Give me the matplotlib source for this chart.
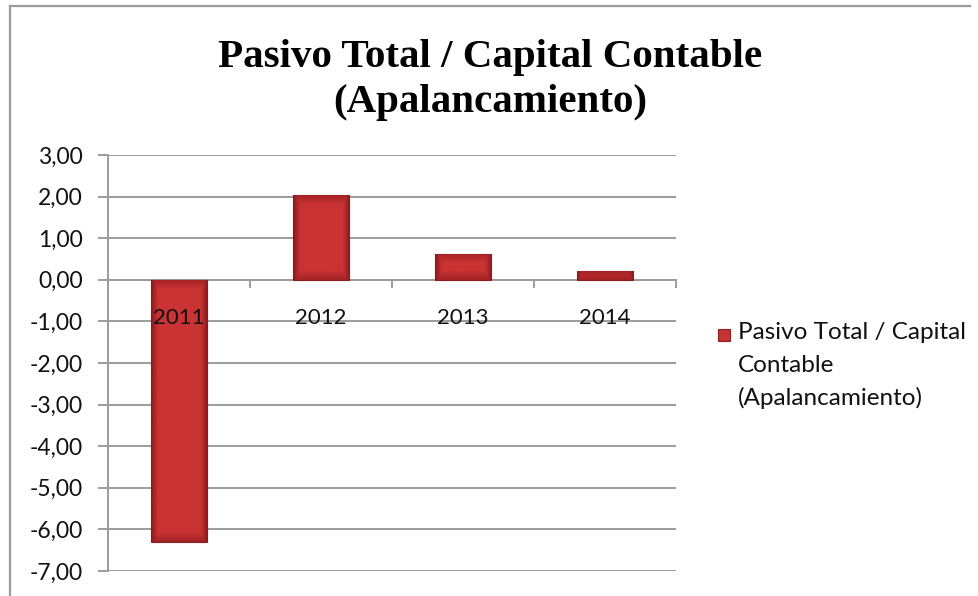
import numpy as np
import matplotlib
matplotlib.use("Agg")
import matplotlib.pyplot as plt
from matplotlib.lines import Line2D
from matplotlib.ticker import FuncFormatter, FixedLocator

years = ["2011", "2012", "2013", "2014"]
ratio = [-6.30, 2.03, 0.63, 0.20]
title_lines = ["Pasivo Total / Capital Contable", "(Apalancamiento)"]
legend_lines = ["Pasivo Total / Capital", "Contable", "(Apalancamiento)"]

W, H = 979, 596
fig = plt.figure(figsize=(W / 100, H / 100), dpi=100)
fig.patch.set_facecolor("white")

# chart border (left and top edges)
fig.add_artist(Line2D([10 / W, 10 / W], [0, 1 - 6 / H], transform=fig.transFigure,
                      color="#9a9a9a", lw=1.6))
fig.add_artist(Line2D([10 / W, 970 / W], [1 - 6 / H, 1 - 6 / H], transform=fig.transFigure,
                      color="#9a9a9a", lw=1.6))

ax = fig.add_axes([108 / W, 1 - 571 / H, (676 - 108) / W, (571 - 155) / H])
ax.set_xlim(-0.5, len(years) - 0.5)
ax.set_ylim(-7, 3)

grid_c = "#9c9c9c"
ax.set_yticks(np.arange(-7, 4, 1))
ax.yaxis.set_major_formatter(FuncFormatter(lambda v, p: f"{v:.2f}".replace(".", ",")))
ax.grid(axis="y", color=grid_c, lw=1.4)
ax.set_axisbelow(True)

for s in ["top", "right"]:
    ax.spines[s].set_visible(False)
ax.spines["left"].set_color(grid_c)
ax.spines["left"].set_linewidth(1.4)
ax.spines["bottom"].set_position(("data", 0))
ax.spines["bottom"].set_color(grid_c)
ax.spines["bottom"].set_linewidth(1.4)

x = np.arange(len(years))
ax.xaxis.set_major_locator(FixedLocator(np.arange(-0.5, len(years), 1.0)))
ax.xaxis.set_major_formatter(FuncFormatter(lambda v, p: ""))
ax.xaxis.set_minor_locator(FixedLocator(x))
ax.set_xticklabels(years, minor=True)
ax.tick_params(axis="x", which="major", length=6, color=grid_c, width=1.4, direction="out")
ax.tick_params(axis="x", which="minor", length=0, pad=20, labelsize=16, labelcolor="#111111")
ax.tick_params(axis="y", length=7, color=grid_c, width=1.4, pad=11, labelsize=16.5,
               labelcolor="#111111")
for lab in ax.get_xticklabels(minor=True) + ax.get_yticklabels():
    lab.set_fontfamily("Lato")
# year labels sit on top of the bars
ax.xaxis.set_zorder(5)

bar_w = 0.4
bars = ax.bar(x, ratio, width=bar_w, color="#c33435", edgecolor="#8e1f20", linewidth=0.8,
              zorder=3)

# shaded fill for each bar: darker near the sides, lighter bevel at the ends
nx, ny = 60, 200
u = np.linspace(0, 1, nx)
v = np.linspace(0, 1, ny)
U, V = np.meshgrid(u, v)
side = np.clip(np.minimum(U, 1 - U) / 0.12, 0, 1)
base = np.array([0.79, 0.20, 0.20])
dark = np.array([0.55, 0.10, 0.11])
for b, val in zip(bars, ratio):
    x0 = b.get_x()
    y0, y1 = sorted([0, val])
    hpx = abs(val) * 41.6
    end = np.clip(np.minimum(V, 1 - V) * hpx / 9.0, 0, 1)
    shade = np.minimum(side, 0.35 + 0.65 * end)
    img = dark[None, None, :] + (base - dark)[None, None, :] * shade[..., None]
    im = ax.imshow(img, extent=(x0, x0 + bar_w, y0, y1), origin="lower", aspect="auto",
                   zorder=3.5, interpolation="bilinear")
    im.set_clip_path(b)

ax.set_xlim(-0.5, len(years) - 0.5)
ax.set_ylim(-7, 3)

for line, base_y in zip(title_lines, [67, 112]):
    fig.text(490 / W, 1 - base_y / H, line, ha="center", va="baseline", fontsize=29.5,
             fontweight="bold", family="Liberation Serif")

# legend
fig.patches.append(plt.Rectangle((718 / W, 1 - 341 / H), 12 / W, 12 / H,
                                 transform=fig.transFigure, facecolor="#c33435",
                                 edgecolor="#8e1f20", lw=0.8))
for line, base_y in zip(legend_lines, [339, 372, 405]):
    fig.text(738 / W, 1 - base_y / H, line, ha="left", va="baseline", fontsize=17.5,
             family="Lato", color="#111111")

fig.savefig("out.png", dpi=100, facecolor="white")
